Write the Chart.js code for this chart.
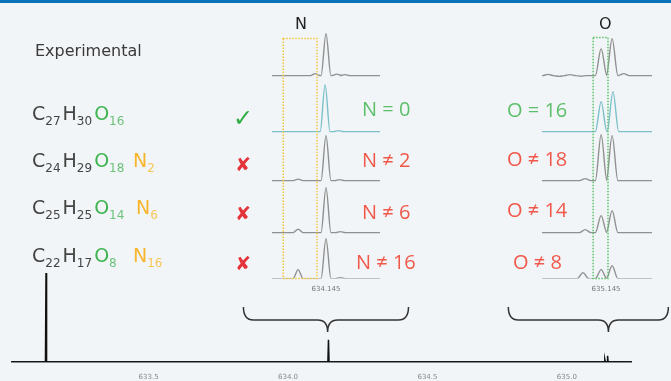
<!DOCTYPE html>
<html>
<head>
<meta charset="utf-8">
<script src="https://cdn.jsdelivr.net/npm/chart.js@4.4.1/dist/chart.umd.min.js"></script>
<style>
  body { margin: 0; background: #f2f5f7; }
  #wrap { position: relative; width: 671px; height: 381px; overflow: hidden; background: #f2f5f7; font-family: "DejaVu Sans", sans-serif; }
  #topbar { position: absolute; left: 0; top: 0; width: 671px; height: 3px; background: #0a72b8; }
  canvas { position: absolute; }
  .t { position: absolute; white-space: nowrap; line-height: 1; }
  .f { font-size: 19px; line-height: 19px; color: #444; }
  .f sub { font-size: 12px; vertical-align: -5px; margin-right: 2px; }
  .g { color: #3db44e; }
  .gs { color: #6cc27a; }
  .y { color: #f7b52c; }
  .ys { color: #f8c65a; }
  .lab { font-family: "Open Sans", sans-serif; font-size: 20px; line-height: 20px; }
  .ok { color: #5cbf6a; }
  .no { color: #f0584a; }
</style>
</head>
<body>
<div id="wrap">
  <div id="topbar"></div>
  <canvas id="mainChart" width="671" height="392" style="left:0;top:0"></canvas>
  <canvas id="nChart" width="130" height="279" style="left:262px;top:20px"></canvas>
  <canvas id="oChart" width="130" height="279" style="left:532px;top:20px"></canvas>

  <div class="t" style="left:35px;top:43px;font-size:16px;color:#3a3a3a">Experimental</div>
  <div class="t" style="left:295px;top:16px;font-size:16px;color:#222">N</div>
  <div class="t" style="left:599px;top:16px;font-size:16px;color:#222">O</div>

  <div class="t f" style="left:32px;top:104px">C<sub>27</sub>H<sub>30</sub><span class="g">O</span><sub class="gs">16</sub></div>
  <div class="t f" style="left:32px;top:151px">C<sub>24</sub>H<sub>29</sub><span class="g">O</span><sub class="gs">18</sub></div>
  <div class="t f y" style="left:133px;top:151px">N<sub class="ys">2</sub></div>
  <div class="t f" style="left:32px;top:198px">C<sub>25</sub>H<sub>25</sub><span class="g">O</span><sub class="gs">14</sub></div>
  <div class="t f y" style="left:136px;top:198px">N<sub class="ys">6</sub></div>
  <div class="t f" style="left:32px;top:246px">C<sub>22</sub>H<sub>17</sub><span class="g">O</span><sub class="gs">8</sub></div>
  <div class="t f y" style="left:133px;top:246px">N<sub class="ys">16</sub></div>

  <div class="t" style="left:233px;top:106px;font-size:24px;color:#2fae45">✓</div>
  <div class="t" style="left:235px;top:155px;font-size:19px;color:#e5333a">✘</div>
  <div class="t" style="left:235px;top:204px;font-size:19px;color:#e5333a">✘</div>
  <div class="t" style="left:235px;top:254px;font-size:19px;color:#e5333a">✘</div>

  <div class="t lab ok" style="left:362px;top:99px">N = 0</div>
  <div class="t lab no" style="left:362px;top:150px">N ≠ 2</div>
  <div class="t lab no" style="left:362px;top:202px">N ≠ 6</div>
  <div class="t lab no" style="left:356px;top:252px">N ≠ 16</div>
  <div class="t lab ok" style="left:507px;top:100px">O = 16</div>
  <div class="t lab no" style="left:507px;top:149px">O ≠ 18</div>
  <div class="t lab no" style="left:507px;top:200px">O ≠ 14</div>
  <div class="t lab no" style="left:513px;top:252px">O ≠ 8</div>
</div>
<script>
// full spectrum
const mainMz = [633.132, 634.145, 635.136, 635.146];
const mainInt = [100, 25, 3, 7];
const mainTicks = [633.5, 634.0, 634.5, 635.0];

// N window (rows: experimental, C27H30O16, C24H29O18N2, C25H25O14N6, C22H17O8N16)
const nTick = 634.145;
const nMz = [
    [634.1426, 634.1450, 634.1474, 634.1492],
    [634.1448, 634.1478],
    [634.1388, 634.1450, 634.1480],
    [634.1388, 634.1450, 634.1482],
    [634.1388, 634.1450, 634.1482]
];
const nInt = [
    [2, 42, 1.5, 1],
    [47, 1],
    [1.5, 45, 1],
    [3.5, 45, 1],
    [9, 40, 1]
];

// O window
const oTick = 635.145;
const oMz = [
    [635.1239, 635.1279, 635.1319, 635.1359, 635.1432, 635.1472, 635.1514],
    [635.1432, 635.1475],
    [635.1374, 635.1432, 635.1472],
    [635.1374, 635.1432, 635.1472],
    [635.1366, 635.1432, 635.1472]
];
const oInt = [
    [1.2, -0.8, 1, -0.6, 27, 37, 2],
    [30, 40],
    [2, 46, 45],
    [3, 17, 22],
    [6, 9, 13]
];

Chart.defaults.font.family = 'DejaVu Sans';

// layout of the stacked traces (y units = px)
const rowOffset = [203, 147, 98, 46, 0];
const rowColor = ['#909090', '#7cc0ca', '#909090', '#909090', '#909090'];

function trace(mz, inten, lo, hi, hw, off) {
    const pts = [{ x: lo, y: off }];
    mz.forEach((m, i) => {
        pts.push({ x: m - hw, y: off }, { x: m, y: off + inten[i] }, { x: m + hw, y: off });
    });
    pts.push({ x: hi, y: off });
    return pts;
}

// dotted window box
const boxPlugin = {
    id: 'dotbox',
    afterDatasetsDraw(chart, args, o) {
        const { ctx, scales: { x, y } } = chart;
        const l = x.getPixelForValue(o.from), r = x.getPixelForValue(o.to);
        const t = y.getPixelForValue(o.top), b = y.getPixelForValue(0);
        ctx.save();
        ctx.strokeStyle = o.color;
        ctx.lineWidth = 1.5;
        ctx.setLineDash([1.5, 1.5]);
        ctx.strokeRect(l, t, r - l, b - t);
        ctx.restore();
    }
};

function panel(id, lo, hi, tick, mzs, ints, hw, padR, box) {
    new Chart(document.getElementById(id), {
        type: 'line',
        data: {
            datasets: mzs.map((m, i) => ({
                data: trace(m, ints[i], lo, hi, hw, rowOffset[i]),
                borderColor: rowColor[i],
                borderWidth: 1.4,
                pointRadius: 0,
                cubicInterpolationMode: 'monotone'
            }))
        },
        options: {
            responsive: false, animation: false, devicePixelRatio: 1,
            layout: { padding: { left: 10, right: padR, top: 0, bottom: 0 } },
            plugins: { legend: { display: false }, tooltip: { enabled: false }, dotbox: box },
            scales: {
                x: {
                    type: 'linear', min: lo, max: hi,
                    grid: { display: false, drawTicks: false },
                    border: { display: false },
                    afterBuildTicks: a => { a.ticks = [{ value: tick }]; },
                    ticks: { padding: 6, color: '#777', font: { size: 7 }, callback: v => v.toFixed(3) }
                },
                y: { display: false, min: 0, max: 258.6 }
            }
        },
        plugins: [boxPlugin]
    });
}

panel('nChart', 634.133, 634.157, nTick, nMz, nInt, 0.0011, 12,
    { from: 634.1355, to: 634.1430, top: 240, color: '#f3c640' });
panel('oChart', 635.1217, 635.1617, oTick, oMz, oInt, 0.0021, 10,
    { from: 635.1403, to: 635.1457, top: 241, color: '#5cc06a' });

// braces under the windows
function brace(ctx, x1, x2, xm, yT, yM, yB) {
    const r = 10;
    ctx.beginPath();
    ctx.moveTo(x1, yT);
    ctx.quadraticCurveTo(x1, yM, x1 + r, yM);
    ctx.lineTo(xm - r, yM);
    ctx.quadraticCurveTo(xm, yM, xm, yB);
    ctx.quadraticCurveTo(xm, yM, xm + r, yM);
    ctx.lineTo(x2 - r, yM);
    ctx.quadraticCurveTo(x2, yM, x2, yT);
    ctx.stroke();
}

const bracePlugin = {
    id: 'braces',
    afterDraw(chart) {
        const { ctx, scales: { x } } = chart;
        ctx.save();
        ctx.strokeStyle = '#333';
        ctx.lineWidth = 1.5;
        brace(ctx, x.getPixelForValue(633.84), x.getPixelForValue(634.432), x.getPixelForValue(634.142), 307, 320, 332);
        brace(ctx, x.getPixelForValue(634.79), x.getPixelForValue(635.364), x.getPixelForValue(635.149), 307, 320, 332);
        ctx.restore();
    }
};

new Chart(document.getElementById('mainChart'), {
    type: 'line',
    data: {
        datasets: [{
            data: trace(mainMz, mainInt, 633.01, 635.23, 0.002, 0),
            borderColor: '#111',
            borderWidth: 1.5,
            pointRadius: 0
        }]
    },
    options: {
        responsive: false, animation: false, devicePixelRatio: 1,
        layout: { padding: { left: 12, right: 40, top: 273, bottom: 0 } },
        plugins: { legend: { display: false }, tooltip: { enabled: false } },
        scales: {
            x: {
                type: 'linear', min: 633.01, max: 635.23,
                grid: { display: false, drawTicks: false },
                border: { display: true, color: '#222', width: 1.5 },
                afterBuildTicks: a => { a.ticks = mainTicks.map(v => ({ value: v })); },
                ticks: { padding: 10.8, color: '#888', font: { size: 7 }, callback: v => v.toFixed(1) }
            },
            y: { display: false, min: 0, max: 100 }
        }
    },
    plugins: [bracePlugin]
});
</script>
</body>
</html>
